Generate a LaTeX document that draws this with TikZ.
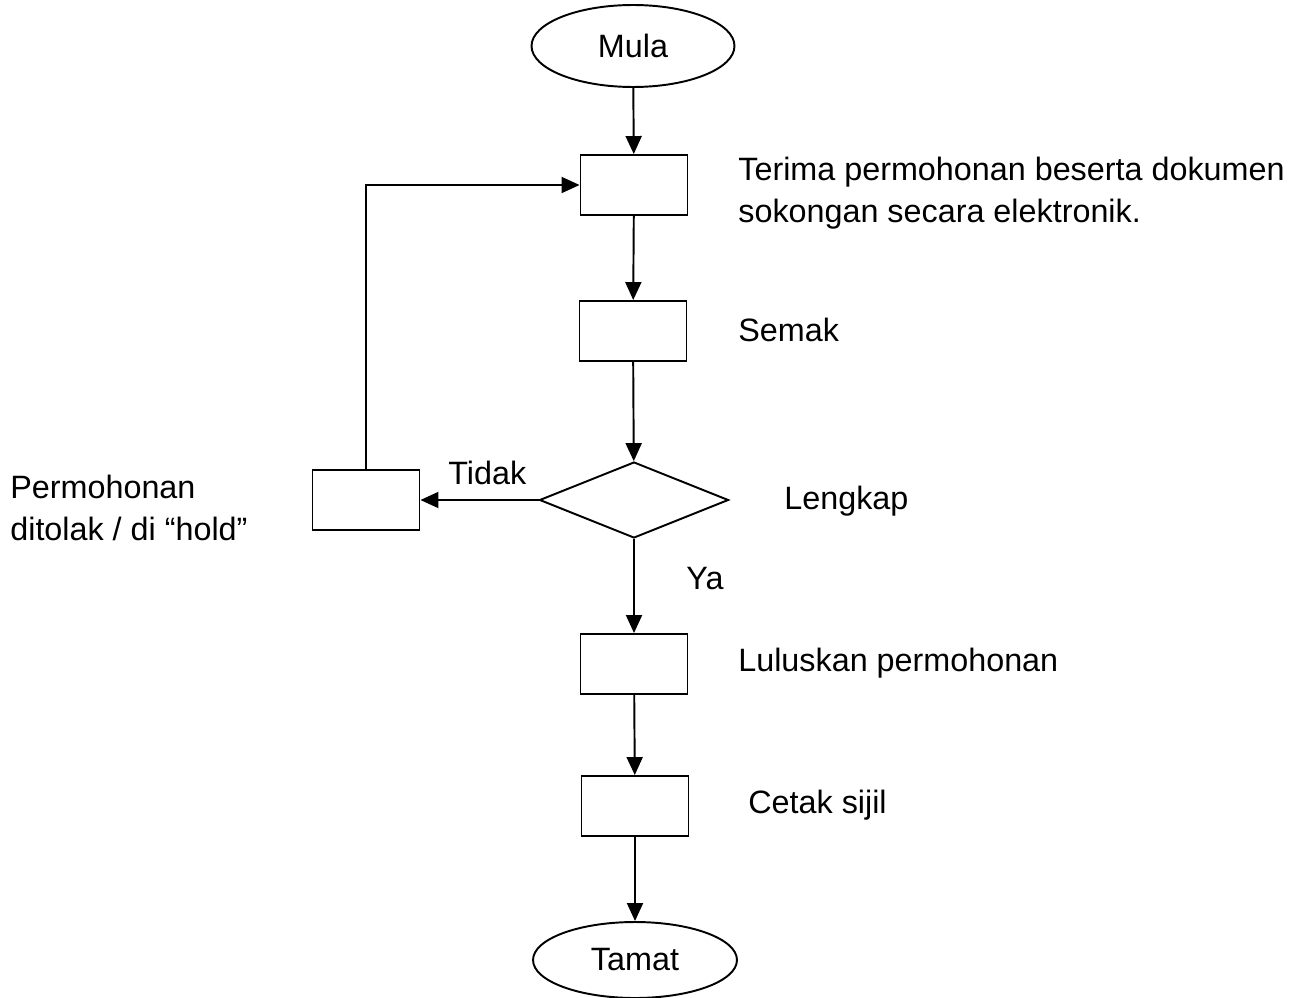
\documentclass[tikz,border=0pt]{standalone}
\usepackage{fontspec}
\setmainfont{Liberation Sans}
\usetikzlibrary{shapes.geometric,arrows.meta}
\tikzset{
  langkah/.style={draw,line width=1.1pt,minimum width=2.14cm,minimum height=1.2cm,inner sep=0},
  hujung/.style={draw,ellipse,line width=1.1pt,inner sep=0},
  arr/.style={line width=1.1pt,-{Triangle[length=3.6mm,width=3.2mm]}},
  teks/.style={anchor=west,inner sep=0,align=left}
}
\begin{document}
\begin{tikzpicture}[x=0.02cm,y=-0.02cm,font=\fontsize{18.4}{23.5}\selectfont]
  \useasboundingbox (0,0) rectangle (1304,997);
  \node[hujung,minimum width=4.06cm,minimum height=1.64cm] (mula) at (633,46) {Mula};
  \node[langkah] (terima) at (634,185) {};
  \node[langkah] (semak) at (633,331) {};
  \node[draw,diamond,line width=1.1pt,inner sep=0,minimum width=3.78cm,minimum height=1.52cm] (lengkap) at (634,500) {};
  \node[langkah] (tolak) at (366,500) {};
  \node[langkah] (lulus) at (634,664) {};
  \node[langkah] (cetak) at (635,806) {};
  \node[hujung,minimum width=4.08cm,minimum height=1.52cm] (tamat) at (635,960) {Tamat};
  \node[teks] (t1) at (738,193) {Terima permohonan beserta dokumen\\sokongan secara elektronik.};
  \node[teks] (t2) at (738,330) {Semak};
  \node[teks] (t3) at (784,501) {Lengkap};
  \node[teks] (t4) at (10,508) {Permohonan\\ditolak / di “hold”};
  \node[teks] (t5) at (738,663) {Luluskan permohonan};
  \node[teks] (t6) at (748,805) {Cetak sijil};
  \node[teks] (tidak) at (448,473) {Tidak};
  \node[teks] (ya) at (686,579) {Ya};
  \draw[arr] (mula) -- (terima);
  \draw[arr] (terima) -- (semak);
  \draw[arr] (semak) -- (lengkap);
  \draw[arr] (lengkap) -- (tolak);
  \draw[arr] (tolak) |- (terima);
  \draw[arr] (lengkap) -- (lulus);
  \draw[arr] (lulus) -- (cetak);
  \draw[arr] (cetak) -- (tamat);
\end{tikzpicture}
\end{document}
